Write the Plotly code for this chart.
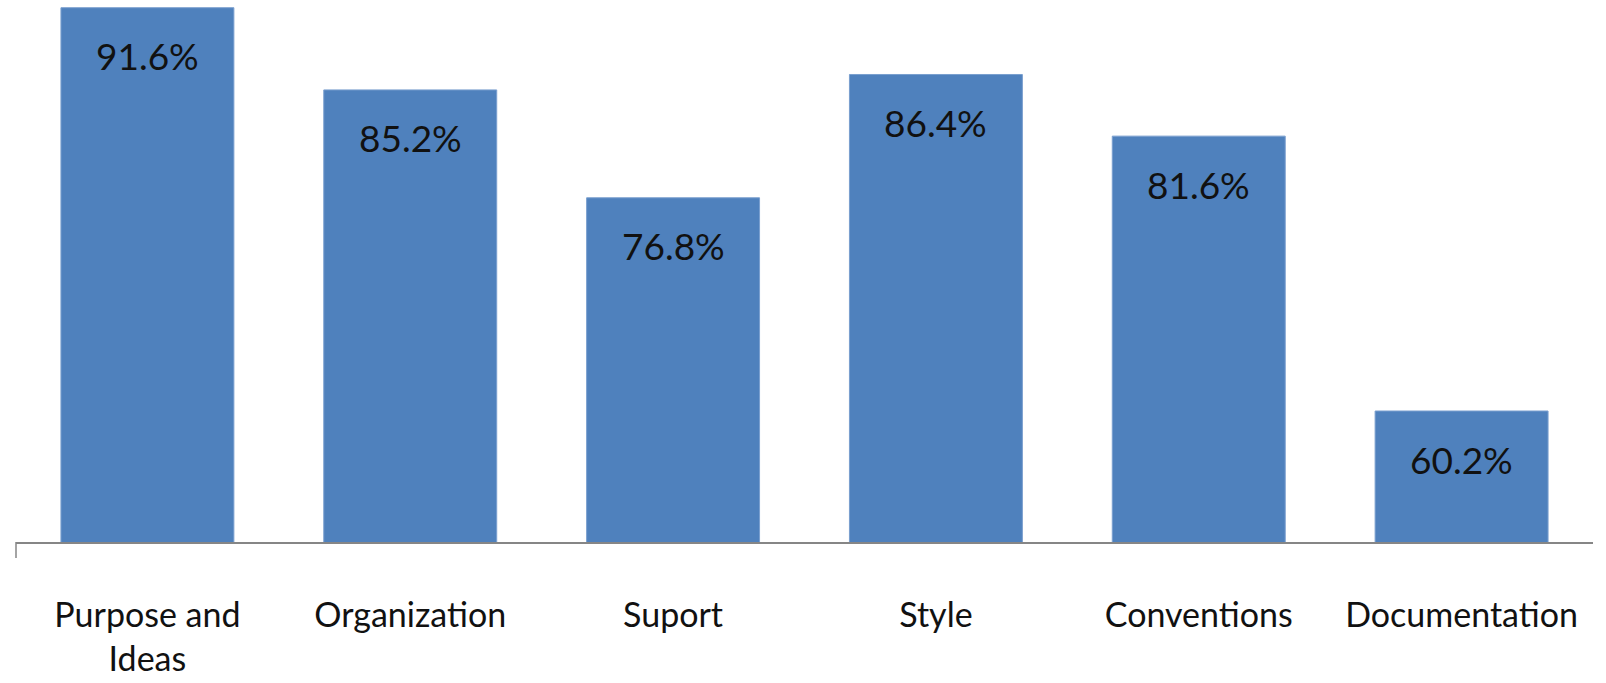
import plotly.graph_objects as go

categories = ["Purpose and<br>Ideas", "Organization", "Suport", "Style", "Conventions", "Documentation"]
values = [91.6, 85.2, 76.8, 86.4, 81.6, 60.2]
labels = ["91.6%", "85.2%", "76.8%", "86.4%", "81.6%", "60.2%"]

FONT = "Lato"

fig = go.Figure()
fig.add_trace(go.Bar(
    x=categories, y=values,
    marker=dict(color="#4F81BD", line=dict(color="#7A9FCF", width=1)),
    width=0.658,
    hoverinfo="skip",
))

for c, v, t in zip(categories, values, labels):
    fig.add_annotation(x=c, y=v, text=t, showarrow=False, yanchor="middle",
                       yshift=-48, font=dict(family=FONT, size=37, color="#111111"))

fig.add_shape(type="line", xref="paper", yref="paper", x0=0, x1=0, y0=0, y1=-16/542,
              line=dict(color="#868686", width=1.5))

fig.update_layout(
    width=1606, height=683,
    margin=dict(l=16, r=13, t=0, b=141),
    paper_bgcolor="white", plot_bgcolor="white",
    showlegend=False,
    bargap=0.342,
    xaxis=dict(showline=True, linecolor="#868686", linewidth=1.5, ticks="",
               tickfont=dict(family=FONT, size=34, color="#111111"),
               ticklabelstandoff=42, showgrid=False, zeroline=False),
    yaxis=dict(range=[50, 92.2], visible=False, showgrid=False, zeroline=False),
)

fig.write_html("out.html")
